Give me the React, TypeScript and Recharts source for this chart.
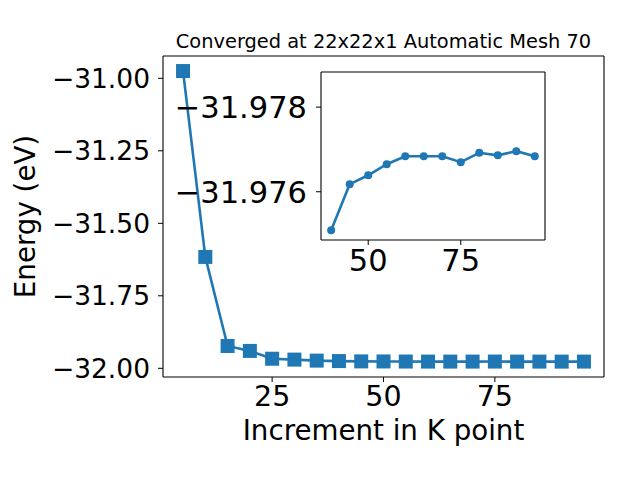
import React from 'react';
import {LineChart, Line, XAxis, YAxis, CartesianGrid, Label} from 'recharts';

// k-point increments and total energies (eV)
const kPoints = [5, 10, 15, 20, 25, 30, 35, 40, 45, 50, 55, 60, 65, 70, 75, 80, 85, 90, 95];
const energy = [
    -30.975, -31.616, -31.923, -31.94, -31.967, -31.97, -31.9735, -31.97509, -31.97618, -31.97639,
    -31.97665, -31.97684, -31.97684, -31.97684, -31.9767, -31.97692, -31.97686, -31.97696, -31.97684,
];

// zoomed section shown in the inset
const insetK = [40, 45, 50, 55, 60, 65, 70, 75, 80, 85, 90, 95];
const insetEnergy = [
    -31.97509, -31.97618, -31.97639, -31.97665, -31.97684, -31.97684,
    -31.97684, -31.9767, -31.97692, -31.97686, -31.97696, -31.97684,
];

const mainXTicks = [25, 50, 75];
const mainYTicks = [-32, -31.75, -31.5, -31.25, -31];
const insetXTicks = [50, 75];
const insetYTicks = [-31.978, -31.976];

const mainData = kPoints.map((k, i) => ({k, e: energy[i]}));
const insetData = insetK.map((k, i) => ({k, e: insetEnergy[i]}));

const BLUE = '#1f77b4';
const FONT = '"DejaVu Sans", sans-serif';
const xTickStyle = {fill: '#000', fontSize: 28.5, fontFamily: FONT};
const yTickStyle = {fill: '#000', fontSize: 26.5, fontFamily: FONT};
const insetTickStyle = {fill: '#000', fontSize: 30.5, fontFamily: FONT};
const minus = (d: number) => (v: number) => v.toFixed(d).replace('-', '\u2212');

const SquareDot = (props: any) => {
    const {cx, cy, index} = props;
    if (cx == null || cy == null) return <g key={`sq-${index}`}/>;
    return <rect key={`sq-${index}`} x={cx - 7} y={cy - 7} width={14} height={14} fill={BLUE}/>;
};

const Title = () => (
    <text x={383.5} y={47.5} textAnchor="middle" fontSize={19.4} fontFamily={FONT} fill="#000">
        Converged at 22x22x1 Automatic Mesh 70
    </text>
);

const YTitle = () => (
    <text x={35} y={216.5} transform="rotate(-90, 35, 216.5)" textAnchor="middle"
          fontSize={27.7} fontFamily={FONT} fill="#000">
        Energy (eV)
    </text>
);

const XTitle = () => (
    <text x={383.5} y={440} textAnchor="middle" fontSize={27.7} fontFamily={FONT} fill="#000">
        Increment in K point
    </text>
);

const axisLine = {stroke: '#000', strokeWidth: 1.1};

export default function App() {
    return (
        <div style={{position: 'absolute', left: 0, top: 0, width: 640, height: 480, background: '#fff', fontFamily: FONT}}>
            <div style={{position: 'absolute', left: 0, top: 0}}>
                <LineChart width={640} height={480} data={mainData} margin={{top: 55, right: 35, bottom: 0, left: 0}}>
                    <XAxis dataKey="k" type="number" domain={[0.5, 99.5]} ticks={mainXTicks} height={103}
                           tick={xTickStyle} tickSize={5} tickMargin={4} axisLine={axisLine}
                           tickLine={{stroke: '#000'}} interval={0}>
                        <Label content={XTitle}/>
                        <Label content={Title}/>
                    </XAxis>
                    <XAxis xAxisId="top" dataKey="k" type="number" domain={[0.5, 99.5]} orientation="top"
                           height={1} tick={false} tickLine={false} axisLine={axisLine}/>
                    <YAxis type="number" domain={[-32.03, -30.9231]} ticks={mainYTicks} width={163}
                           tick={yTickStyle} tickSize={5} tickMargin={8} tickFormatter={minus(2)}
                           axisLine={axisLine} tickLine={{stroke: '#000'}} interval={0}>
                        <Label content={YTitle}/>
                    </YAxis>
                    <YAxis yAxisId="right" type="number" domain={[-32.03, -30.9231]} orientation="right"
                           width={1} tick={false} tickLine={false} axisLine={axisLine}/>
                    <Line dataKey="e" stroke={BLUE} strokeWidth={2.6} dot={SquareDot} activeDot={false}
                          isAnimationActive={false}/>
                </LineChart>
            </div>
            <div style={{position: 'absolute', left: 0, top: 0}}>
                <LineChart width={640} height={480} data={insetData} margin={{top: 71, right: 94, bottom: 0, left: 0}}>
                    <CartesianGrid horizontal={false} vertical={false} fill="#fff" fillOpacity={1} stroke="none"/>
                    <XAxis dataKey="k" type="number" domain={[37.25, 97.75]} ticks={insetXTicks} height={240}
                           tick={insetTickStyle} tickSize={5} tickMargin={4} axisLine={axisLine}
                           tickLine={{stroke: '#000'}} interval={0}/>
                    <XAxis xAxisId="top" dataKey="k" type="number" domain={[37.25, 97.75]} orientation="top"
                           height={1} tick={false} tickLine={false} axisLine={axisLine}/>
                    <YAxis type="number" reversed domain={[-31.97883, -31.97486]} ticks={insetYTicks} width={321}
                           tick={insetTickStyle} tickSize={5} tickMargin={9} tickFormatter={minus(3)}
                           axisLine={axisLine} tickLine={{stroke: '#000'}} interval={0}/>
                    <YAxis yAxisId="right" type="number" domain={[-31.97883, -31.97486]} orientation="right"
                           width={1} tick={false} tickLine={false} axisLine={axisLine}/>
                    <Line dataKey="e" stroke={BLUE} strokeWidth={2.6} dot={{r: 4, fill: BLUE, stroke: BLUE, strokeWidth: 0}}
                          activeDot={false} isAnimationActive={false}/>
                </LineChart>
            </div>
        </div>
    );
}
